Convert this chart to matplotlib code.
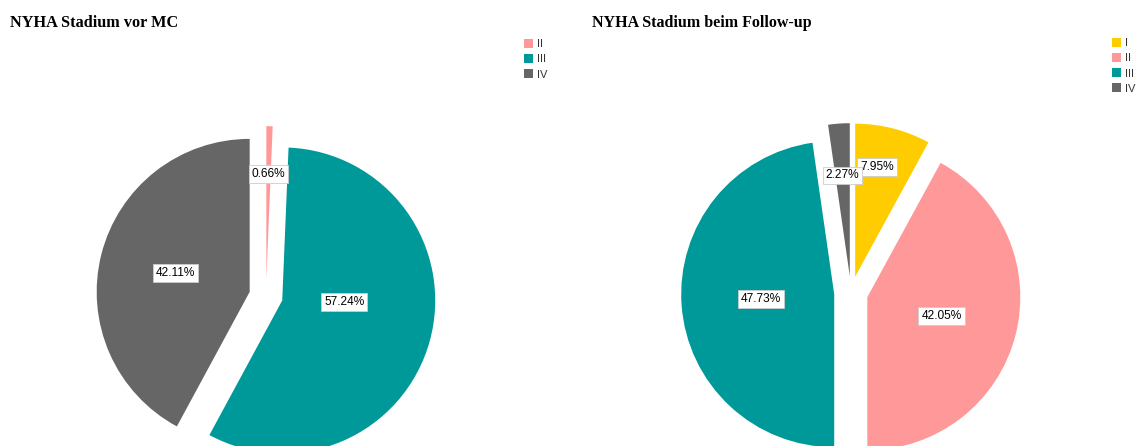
import matplotlib.pyplot as plt
import numpy as np
from matplotlib.patches import Patch

# data
left_title = "NYHA Stadium vor MC"
left_labels = ["II", "III", "IV"]
left_values = [0.66, 57.24, 42.11]
left_colors = ["#FF9999", "#009999", "#666666"]

right_title = "NYHA Stadium beim Follow-up"
right_labels = ["I", "II", "III", "IV"]
right_values = [7.95, 42.05, 47.73, 2.27]
right_colors = ["#FFCC00", "#FF9999", "#009999", "#666666"]

# label placement: distance from slice tip (in radii), position within slice angle
left_dist = [0.69, 0.405, 0.5]
left_frac = [0.5, 0.43, 0.5]
right_dist = [0.73, 0.5, 0.48, 0.66]
right_frac = [0.39, 0.5, 0.5, 0.5]

W, H = 1136, 446
R = 153  # pie radius in px
fig = plt.figure(figsize=(W / 100, H / 100), dpi=100)


def draw_pie(ax, values, colors, dists, fracs, cx, cy_bottom, ax_w):
    explode = [0.11] * len(values)
    wedges, _ = ax.pie(values, colors=colors, startangle=90, counterclock=False,
                       explode=explode, radius=1)
    for w, val, d, f in zip(wedges, values, dists, fracs):
        # counterclock=False -> theta2 is where the slice starts (clockwise)
        ang = np.deg2rad(w.theta2 - f * (w.theta2 - w.theta1))
        x0, y0 = w.center
        ax.text(x0 + d * np.cos(ang), y0 + d * np.sin(ang), f"{val:.2f}%",
                ha="center", va="center", fontsize=8.6, family="Liberation Sans",
                bbox=dict(boxstyle="square,pad=0.25", fc="white", ec="#cccccc", lw=0.6))
    ax.set_aspect("auto")
    ax.set_xlim(-cx / R, (ax_w - cx) / R)
    ax.set_ylim(-cy_bottom / R, (H - cy_bottom) / R)


ax1 = fig.add_axes([0, 0, 0.5, 1])
draw_pie(ax1, left_values, left_colors, left_dist, left_frac, 266, H - 296, 568)

ax2 = fig.add_axes([0.5, 0, 0.5, 1])
draw_pie(ax2, right_values, right_colors, right_dist, right_frac, 283, H - 293, 568)

fig.text(10 / W, 1 - 23 / H, left_title, family="Liberation Serif", weight="bold",
         fontsize=11.7, va="center", ha="left")
fig.text(592 / W, 1 - 23 / H, right_title, family="Liberation Serif", weight="bold",
         fontsize=11.5, va="center", ha="left")

for labels, colors, x, y in [(left_labels, left_colors, 524, 39),
                             (right_labels, right_colors, 1112, 38)]:
    handles = [Patch(fc=c, ec="none") for c in colors]
    fig.legend(handles, labels, loc="upper left", bbox_to_anchor=(x / W, 1 - y / H),
               frameon=False, prop=dict(family="Liberation Sans", size=8),
               labelcolor="#333333", handlelength=0.85, handleheight=0.85,
               handletextpad=0.35, labelspacing=0.44, borderpad=0, borderaxespad=0)

fig.savefig("out.png", dpi=100)
